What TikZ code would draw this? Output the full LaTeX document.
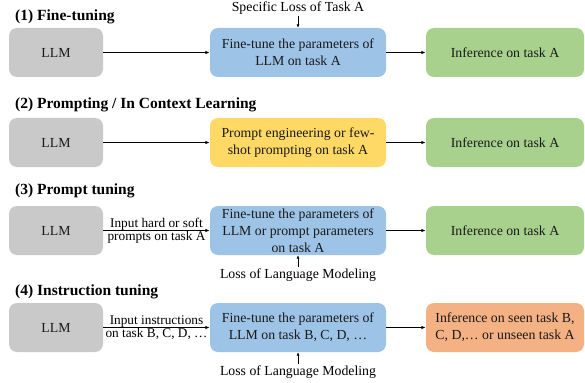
\documentclass[tikz,border=0pt]{standalone}
\usepackage{fontspec}
\setmainfont{Liberation Serif}
\usetikzlibrary{arrows.meta}
\definecolor{cgray}{HTML}{C9C9C9}
\definecolor{cblue}{HTML}{9DC3E6}
\definecolor{cgreen}{HTML}{A9D18E}
\definecolor{cyellow}{HTML}{FFD966}
\definecolor{corange}{HTML}{F4B183}
\begin{document}
\begin{tikzpicture}[x=1pt,y=-1pt,
  box/.style={rounded corners=8pt, minimum height=49pt, inner xsep=2pt, inner ysep=0pt, align=center,
    font=\fontsize{13.8}{16.8}\selectfont, text=black!90},
  llmbox/.style={box, fill=cgray, minimum width=94pt},
  midbox/.style={box, fill=cblue, minimum width=176pt},
  endbox/.style={box, fill=cgreen, minimum width=158pt},
  ttl/.style={anchor=west, font=\fontsize{15.5}{18}\selectfont\bfseries, inner sep=0pt},
  lbl/.style={font=\fontsize{13.8}{16}\selectfont, inner sep=1pt},
  elbl/.style={font=\fontsize{13.3}{16}\selectfont, inner sep=1pt},
  arr/.style={-{Latex[length=4.5pt,width=3.5pt]}, line width=1.1pt},
  sarr/.style={-{Latex[length=3.5pt,width=3pt]}, line width=0.9pt}]
\useasboundingbox (0,0) rectangle (585,382);
% Row 1
\node[ttl] (t1) at (15,17) {(1) Fine-tuning};
\node[llmbox] (l1) at (56,52.5) {LLM};
\node[midbox] (m1) at (298,52.5) {Fine-tune the parameters of\\LLM on task A};
\node[endbox] (e1) at (505,52.5) {Inference on task A};
\node[lbl] (s1) at (298,8) {Specific Loss of Task A};
\draw[arr] (l1) -- (m1);
\draw[arr] (m1) -- (e1);
\draw[sarr] (s1) -- (m1);
% Row 2
\node[ttl] (t2) at (15,105) {(2) Prompting / In Context Learning};
\node[llmbox] (l2) at (56,142.5) {LLM};
\node[midbox, fill=cyellow] (m2) at (298,142.5) {Prompt engineering or few-\\shot prompting on task A};
\node[endbox] (e2) at (505,142.5) {Inference on task A};
\draw[arr] (l2) -- (m2);
\draw[arr] (m2) -- (e2);
% Row 3
\node[ttl] (t3) at (15,191) {(3) Prompt tuning};
\node[llmbox] (l3) at (56,230.5) {LLM};
\node[midbox] (m3) at (298,230.5) {Fine-tune the parameters of\\LLM or prompt parameters\\on task A};
\node[endbox] (e3) at (505,230.5) {Inference on task A};
\node[lbl] (s3) at (298,275) {Loss of Language Modeling};
\draw[arr] (l3) -- node[elbl, above, yshift=-1pt] {Input hard or soft} node[elbl, below, yshift=1pt] {prompts on task A} (m3);
\draw[arr] (m3) -- (e3);
\draw[sarr] (s3) -- (m3);
% Row 4
\node[ttl] (t4) at (15,292) {(4) Instruction tuning};
\node[llmbox] (l4) at (56,327.5) {LLM};
\node[midbox] (m4) at (298,327.5) {Fine-tune the parameters of\\LLM on task B, C, D, \dots};
\node[endbox, fill=corange, align=left] (e4) at (505,327.5) {Inference on seen task B,\\C, D,\dots\ or unseen task A};
\node[lbl] (s4) at (298,372) {Loss of Language Modeling};
\draw[arr] (l4) -- node[elbl, above, yshift=-1pt] {Input instructions} node[elbl, below, yshift=1pt] {on task B, C, D, \dots} (m4);
\draw[arr] (m4) -- (e4);
\draw[sarr] (s4) -- (m4);
\end{tikzpicture}
\end{document}
